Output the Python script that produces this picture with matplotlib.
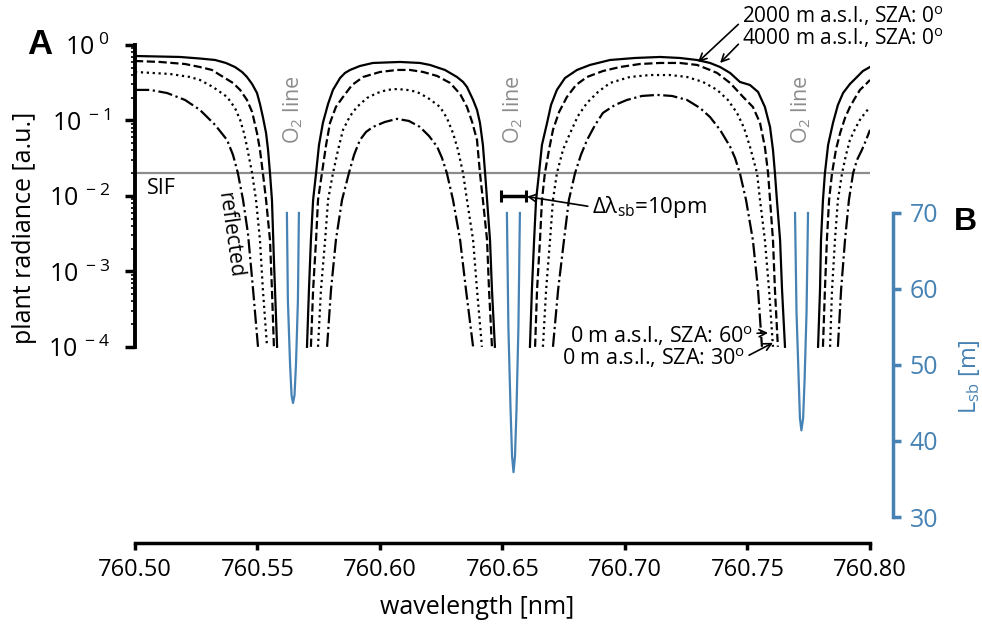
import numpy as np
import matplotlib
matplotlib.use('Agg')
import matplotlib.pyplot as plt
from matplotlib.ticker import FixedLocator, NullLocator

plt.rcParams['font.family'] = ['Open Sans', 'DejaVu Sans']
plt.rcParams['mathtext.fontset'] = 'custom'
plt.rcParams['mathtext.rm'] = 'Open Sans'
plt.rcParams['mathtext.it'] = 'Open Sans:italic'
plt.rcParams['mathtext.bf'] = 'Open Sans:bold'

nan = np.nan

# plant radiance, 4000 m a.s.l., SZA 0 (solid); nan where the curve is below 1e-4
wl_4000 = [760.5000, 760.5184, 760.5265, 760.5327, 760.5371, 760.5408, 760.5437, 760.5457, 760.5478,
           760.5498, 760.5510, 760.5522, 760.5535, 760.5543, 760.5551, 760.5559, 760.5567, 760.5580, nan,
           760.5702, 760.5710, 760.5718, 760.5727, 760.5739, 760.5751, 760.5767, 760.5788, 760.5808, 760.5837,
           760.5857, 760.5878, 760.5918, 760.5971, 760.6082, 760.6163, 760.6204, 760.6265, 760.6314, 760.6339,
           760.6355, 760.6380, 760.6396, 760.6408, 760.6420, 760.6429, 760.6437, 760.6449, 760.6457, 760.6469, nan,
           760.6612, 760.6620, 760.6629, 760.6637, 760.6649, 760.6661, 760.6682, 760.6698, 760.6722, 760.6755,
           760.6804, 760.6857, 760.6939, 760.7041, 760.7143, 760.7224, 760.7294, 760.7347, 760.7388, 760.7429,
           760.7469, 760.7510, 760.7543, 760.7571, 760.7592, 760.7604, 760.7612, 760.7620, 760.7633, 760.7641,
           760.7653, nan,
           760.7788, 760.7796, 760.7800, 760.7808, 760.7816, 760.7829, 760.7849, 760.7869, 760.7890, 760.7918,
           760.7947, 760.7971, 760.8000]
rad_4000 = [0.715, 0.694, 0.662, 0.633, 0.578, 0.511, 0.439, 0.377, 0.304,
            0.231, 0.1655, 0.111, 0.068, 0.041, 0.020, 0.00885, 0.00142, 0.0001, nan,
            0.0001, 0.000569, 0.0026, 0.00885, 0.020, 0.0474, 0.093, 0.1655, 0.254, 0.365,
            0.426, 0.467, 0.527, 0.578, 0.596, 0.578, 0.544, 0.467, 0.377, 0.324,
            0.278, 0.187, 0.138, 0.093, 0.0474, 0.020, 0.00885, 0.0026, 0.000569, 0.0001, nan,
            0.0001, 0.000569, 0.0026, 0.00885, 0.020, 0.0474, 0.093, 0.1604, 0.254, 0.365,
            0.467, 0.544, 0.633, 0.673, 0.694, 0.673, 0.633, 0.578, 0.511, 0.426,
            0.324, 0.295, 0.239, 0.151, 0.082, 0.0407, 0.020, 0.00885, 0.0026, 0.000569,
            0.0001, nan,
            0.0001, 0.000569, 0.0026, 0.00885, 0.020, 0.0474, 0.093, 0.1604, 0.231, 0.304,
            0.377, 0.452, 0.511]

# 2000 m a.s.l., SZA 0 (dashed)
wl_2000 = [760.5000, 760.5102, 760.5204, 760.5265, 760.5314, 760.5347, 760.5380, 760.5400, 760.5429,
           760.5457, 760.5478, 760.5498, 760.5510, 760.5522, 760.5535, 760.5551, 760.5559, 760.5567, nan,
           760.5718, 760.5727, 760.5739, 760.5747, 760.5763, 760.5780, 760.5796, 760.5820, 760.5849, 760.5886,
           760.5931, 760.6000, 760.6069, 760.6122, 760.6176, 760.6233, 760.6286, 760.6327, 760.6355, 760.6376,
           760.6396, 760.6408, 760.6420, 760.6437, 760.6445, 760.6457, nan,
           760.6633, 760.6641, 760.6653, 760.6661, 760.6673, 760.6690, 760.6706, 760.6731, 760.6763, 760.6800,
           760.6845, 760.6910, 760.6980, 760.7061, 760.7143, 760.7224, 760.7294, 760.7347, 760.7376, 760.7429,
           760.7482, 760.7522, 760.7551, 760.7571, 760.7584, 760.7592, 760.7604, 760.7612, 760.7624, nan,
           760.7808, 760.7816, 760.7824, 760.7833, 760.7845, 760.7861, 760.7878, 760.7898, 760.7918, 760.7939,
           760.7959, 760.7980, 760.8000]
rad_2000 = [0.614, 0.596, 0.560, 0.511, 0.467, 0.400, 0.344, 0.314, 0.254,
            0.187, 0.1296, 0.068, 0.041, 0.020, 0.00885, 0.0026, 0.000569, 0.0001, nan,
            0.0001, 0.000569, 0.0026, 0.00885, 0.020, 0.0474, 0.093, 0.151, 0.205, 0.295,
            0.377, 0.439, 0.467, 0.467, 0.439, 0.389, 0.314, 0.2244, 0.151, 0.0955,
            0.055, 0.020, 0.00885, 0.0026, 0.000569, 0.0001, nan,
            0.0001, 0.000569, 0.0026, 0.00885, 0.020, 0.041, 0.075, 0.1296, 0.205, 0.295,
            0.377, 0.452, 0.511, 0.560, 0.578, 0.578, 0.544, 0.467, 0.426, 0.314,
            0.205, 0.151, 0.093, 0.0446, 0.020, 0.00885, 0.0026, 0.000569, 0.0001, nan,
            0.0001, 0.000569, 0.0026, 0.00885, 0.020, 0.041, 0.068, 0.1079, 0.151, 0.1986,
            0.254, 0.295, 0.344]

# 0 m a.s.l., SZA 30 (dotted)
wl_sza30 = [760.5000, 760.5143, 760.5224, 760.5265, 760.5318, 760.5376, 760.5408, 760.5429, 760.5445,
            760.5457, 760.5478, 760.5494, 760.5510, 760.5522, 760.5539, nan,
            760.5747, 760.5759, 760.5776, 760.5788, 760.5808, 760.5829, 760.5849, 760.5878, 760.5906, 760.5947,
            760.5988, 760.6029, 760.6069, 760.6110, 760.6151, 760.6196, 760.6245, 760.6273, 760.6298, 760.6318,
            760.6339, 760.6355, 760.6380, 760.6396, 760.6416, nan,
            760.6665, 760.6678, 760.6694, 760.6706, 760.6722, 760.6747, 760.6776, 760.6808, 760.6845, 760.6890,
            760.6939, 760.7020, 760.7102, 760.7184, 760.7253, 760.7318, 760.7376, 760.7420, 760.7457, 760.7486,
            760.7510, 760.7539, 760.7551, 760.7571, 760.7588, 760.7604, nan,
            760.7837, 760.7845, 760.7857, 760.7869, 760.7886, 760.7902, 760.7918, 760.7939, 760.7959, 760.7980,
            760.8000]
rad_sza30 = [0.439, 0.413, 0.377, 0.344, 0.278, 0.205, 0.1464, 0.102, 0.068,
             0.045, 0.020, 0.00885, 0.0026, 0.000569, 0.0001, nan,
             0.0001, 0.000569, 0.0026, 0.00885, 0.020, 0.041, 0.075, 0.1147, 0.151, 0.1986,
             0.231, 0.254, 0.261, 0.254, 0.239, 0.1986, 0.151, 0.1079, 0.068, 0.041,
             0.020, 0.00885, 0.0026, 0.000569, 0.0001, nan,
             0.0001, 0.000569, 0.0026, 0.00885, 0.020, 0.041, 0.068, 0.1147, 0.171, 0.239,
             0.314, 0.377, 0.400, 0.400, 0.377, 0.324, 0.254, 0.187, 0.126, 0.0796,
             0.045, 0.020, 0.00885, 0.0026, 0.000569, 0.0001, nan,
             0.0001, 0.000569, 0.0026, 0.00885, 0.020, 0.0349, 0.055, 0.0772, 0.102, 0.126,
             0.151]

# 0 m a.s.l., SZA 60 (dash-dot)
wl_sza60 = [760.5000, 760.5061, 760.5131, 760.5204, 760.5265, 760.5327, 760.5376, 760.5400, 760.5420,
            760.5441, 760.5461, 760.5482, 760.5502, nan,
            760.5784, 760.5800, 760.5820, 760.5845, 760.5873, 760.5894, 760.5918, 760.5943, 760.5971, 760.6020,
            760.6069, 760.6118, 760.6163, 760.6200, 760.6233, 760.6253, 760.6273, 760.6298, 760.6327, 760.6351,
            760.6380, nan,
            760.6706, 760.6727, 760.6751, 760.6771, 760.6796, 760.6820, 760.6845, 760.6878, 760.6910, 760.6959,
            760.7008, 760.7069, 760.7131, 760.7192, 760.7253, 760.7306, 760.7347, 760.7388, 760.7429, 760.7449,
            760.7469, 760.7494, 760.7522, 760.7543, 760.7559, nan,
            760.7869, 760.7882, 760.7898, 760.7914, 760.7931, 760.7947, 760.7967, 760.7984, 760.8000]
rad_sza60 = [0.254, 0.254, 0.231, 0.187, 0.138, 0.0872, 0.055, 0.0349, 0.020,
             0.00885, 0.0032, 0.000569, 0.0001, nan,
             0.0001, 0.000569, 0.0026, 0.00885, 0.020, 0.0349, 0.055, 0.0704, 0.082, 0.0955,
             0.105, 0.0985, 0.082, 0.0623, 0.045, 0.0319, 0.020, 0.00885, 0.0026, 0.000569,
             0.0001, nan,
             0.0001, 0.000569, 0.0026, 0.00885, 0.020, 0.0349, 0.055, 0.0872, 0.126, 0.1604,
             0.187, 0.2112, 0.218, 0.2112, 0.187, 0.1464, 0.111, 0.075, 0.045, 0.0319,
             0.020, 0.00885, 0.0026, 0.000569, 0.0001, nan,
             0.0001, 0.000569, 0.0026, 0.00885, 0.020, 0.030, 0.0407, 0.055, 0.075]

# L_sb around the three O2 lines
wl_lsb = [760.5620, 760.5624, 760.5633, 760.5639, 760.5645, 760.5651, 760.5657, 760.5665, 760.5669, nan,
          760.6518, 760.6524, 760.6533, 760.6539, 760.6545, 760.6551, 760.6557, 760.6565, 760.6571, nan,
          760.7694, 760.7700, 760.7709, 760.7714, 760.7720, 760.7727, 760.7733, 760.7741, 760.7747]
lsb = [70, 58.5, 50, 46, 45, 46, 50, 58.5, 70, nan,
       70, 55, 44, 38, 35.9, 38, 44, 55, 70, nan,
       70, 57, 48, 43, 41.4, 43, 48, 57, 70]

o2_lines = [760.5645, 760.6545, 760.7720]
sif_level = 0.02
sb_center = 760.6545
sb_width = 0.010
sb_level = 0.01

x_ticks = [760.50, 760.55, 760.60, 760.65, 760.70, 760.75, 760.80]
y_ticks = [1e-4, 1e-3, 1e-2, 1e-1, 1e0]
y_labels = [r'$10^{\ -4}$', r'$10^{\ -3}$', r'$10^{\ -2}$', r'$10^{\ -1}$', r'$10^{\ 0}$']
lsb_ticks = [30, 40, 50, 60, 70]

blue = '#4682b4'
grey = '#8c8c8c'

fig = plt.figure(figsize=(9.82, 6.25), dpi=100)
ax = fig.add_axes([135/982, 82/625, 735/982, 498/625])
ax2 = ax.twinx()

ax.axhline(sif_level, color=grey, lw=1.6, zorder=1)
ax.plot(wl_4000, rad_4000, color='k', ls='-', lw=1.6)
ax.plot(wl_2000, rad_2000, color='k', ls='--', lw=1.6)
ax.plot(wl_sza30, rad_sza30, color='k', ls=':', lw=1.6)
ax.plot(wl_sza60, rad_sza60, color='k', ls='-.', lw=1.6)
ax.errorbar([sb_center], [sb_level], xerr=[sb_width/2], fmt='none', ecolor='k',
            elinewidth=2.5, capsize=4, capthick=2.2)

ax.set_yscale('log')
ax.set_xlim(760.5, 760.8)
ax.set_ylim(10**-6.6, 1.0)

ax.set_xticks(x_ticks, [f'{v:.2f}' for v in x_ticks])
ax.xaxis.set_minor_locator(NullLocator())
ax.set_yticks(y_ticks, y_labels)
ax.yaxis.set_minor_locator(FixedLocator([k * 10.0**e for e in range(-4, 0) for k in range(2, 10)]))

ax.tick_params(axis='y', which='major', direction='out', length=7, width=2.5, labelsize=18, pad=11)
ax.tick_params(axis='y', which='minor', direction='out', length=3, width=1.2)
ax.tick_params(axis='x', direction='out', length=5, width=2.5, labelsize=17, pad=6)

for s in ['top', 'right']:
    ax.spines[s].set_visible(False)
ax.spines['left'].set_bounds(1e-4, 1.0)
ax.spines['left'].set_linewidth(2.8)
ax.spines['bottom'].set_linewidth(2.5)

ax.set_xlabel('wavelength [nm]', fontsize=18, va='top')
ax.xaxis.set_label_coords(0.465, -0.104)
ax.set_ylabel('plant radiance [a.u.]', fontsize=18)
ax.yaxis.set_label_coords(-0.133, 0.6325)

# blue axis
ax2.plot(wl_lsb, lsb, color=blue, lw=1.6)
ax2.set_ylim(26.58, 92.1)
ax2.set_yticks(lsb_ticks)
for s in ['left', 'top', 'bottom']:
    ax2.spines[s].set_visible(False)
ax2.spines['right'].set_position(('axes', 1.0313))
ax2.spines['right'].set_bounds(30, 70)
ax2.spines['right'].set_color(blue)
ax2.spines['right'].set_linewidth(2.5)
ax2.tick_params(axis='y', colors=blue, direction='out', length=6, width=2.5, labelsize=18, pad=6)
ax2.set_ylabel(r'L$_{\mathrm{sb}}$ [m]', color=blue, fontsize=17)
ax2.yaxis.set_label_coords(1.118, 0.335)

# text labels
for wl in o2_lines:
    ax.text(wl, 0.138, r'O$_2$ line', color=grey, fontsize=15.5, rotation=90, ha='center', va='center')
ax.text(760.5049, 0.0124, 'SIF', fontsize=15.5, ha='left', va='center')
ax.text(760.5388, 0.00304, 'reflected', fontsize=15, rotation=-82, ha='center', va='center',
        rotation_mode='anchor')

arrow = dict(arrowstyle='->', color='k', lw=1.2, shrinkA=1, shrinkB=0, mutation_scale=13)
ax.annotate(r'2000 m a.s.l., SZA: 0$^{\mathrm{o}}$', xy=(760.7298, 0.595), xytext=(760.7478, 2.42),
            fontsize=15, ha='left', va='center', annotation_clip=False,
            arrowprops=dict(arrow, relpos=(0, 0.3)))
ax.annotate(r'4000 m a.s.l., SZA: 0$^{\mathrm{o}}$', xy=(760.7388, 0.578), xytext=(760.7478, 1.238),
            fontsize=15, ha='left', va='center', annotation_clip=False,
            arrowprops=dict(arrow, relpos=(0, 0.4)))
ax.annotate(r'0 m a.s.l., SZA: 60$^{\mathrm{o}}$', xy=(760.7584, 1.53e-4), xytext=(760.7522, 1.40e-4),
            fontsize=15.5, ha='right', va='center', annotation_clip=False,
            arrowprops=dict(arrow, relpos=(1, 0.6)))
ax.annotate(r'0 m a.s.l., SZA: 30$^{\mathrm{o}}$', xy=(760.7604, 1.13e-4), xytext=(760.7490, 7.0e-5),
            fontsize=15.5, ha='right', va='center', annotation_clip=False,
            arrowprops=dict(arrow, relpos=(1, 0.55)))
ax.annotate(r'Δλ$_{\mathrm{sb}}$=10pm', xy=(760.6600, 0.0098), xytext=(760.6865, 0.00715),
            fontsize=16, ha='left', va='center', annotation_clip=False,
            arrowprops=dict(arrow, relpos=(0, 0.5)))

fig.text(40/982, 1 - 44/625, 'A', fontsize=25, fontweight='bold', ha='center', va='center',
         fontfamily='Liberation Sans')
fig.text(965/982, 1 - 222/625, 'B', fontsize=23, fontweight='bold', ha='center', va='center',
         fontfamily='Liberation Sans')

fig.savefig('out.png', dpi=100)
